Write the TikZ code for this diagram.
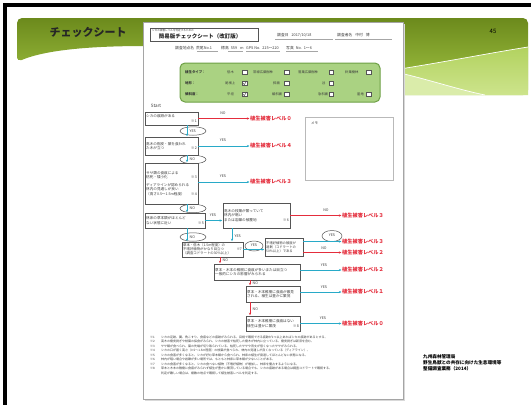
\documentclass[tikz,border=0pt]{standalone}
\usepackage{fontspec}
\setmainfont{Noto Sans CJK JP}
\usetikzlibrary{arrows.meta,shapes.geometric}
\definecolor{redA}{RGB}{228,45,60}
\definecolor{tealA}{RGB}{40,170,200}
\definecolor{boxC}{RGB}{85,85,85}
\definecolor{txtC}{RGB}{60,60,60}
\definecolor{gFill}{RGB}{170,210,130}
\definecolor{gLine}{RGB}{110,160,70}
\definecolor{banD}{RGB}{108,138,28}
\definecolor{banL}{RGB}{165,200,70}
\definecolor{banM}{RGB}{178,210,95}
\definecolor{banN}{RGB}{205,228,140}
\definecolor{banP}{RGB}{218,236,170}
\definecolor{sheetB}{RGB}{165,165,165}
\newcommand{\rnt}[1]{\leavevmode\hskip 0pt plus 1fill #1}
\begin{document}
\begin{tikzpicture}[x=1pt,y=-1pt,
 qbox/.style 2 args={draw=boxC, fill=white, line width=0.5pt, inner sep=1.2pt, align=left, text width=#1, minimum height=#2, font=\fontsize{3.6}{4.4}\selectfont, text=txtC},
 ell/.style={draw=boxC, ellipse, line width=0.5pt, inner sep=0pt, minimum width=26, minimum height=8.5},
 yn/.style={font=\fontsize{3.6}{4}\selectfont, text=txtC, inner sep=0pt},
 ya/.style={-{Stealth[length=2.6pt,width=2.2pt]}, draw=tealA, line width=0.6pt, shorten >=0.5pt},
 na/.style={-{Stealth[length=2.6pt,width=2.2pt]}, draw=redA, line width=0.6pt, shorten >=0.5pt},
 lvl/.style={anchor=west, text=redA, font=\fontsize{5.2}{6}\selectfont\bfseries, inner sep=0pt},
 cb/.style={draw=boxC, fill=white, minimum size=4.5, inner sep=0pt, line width=0.45pt},
 gl/.style={anchor=west, inner sep=0pt, font=\fontsize{3.3}{4}\selectfont, text=txtC},
 gh/.style={anchor=west, inner sep=0pt, font=\fontsize{3.4}{4}\selectfont\bfseries, text=black!80},
 hd/.style={anchor=west, inner sep=0pt, font=\fontsize{3.8}{4.4}\selectfont, text=txtC},
 nt/.style={anchor=west, inner sep=0pt, font=\fontsize{3}{3.5}\selectfont, text=txtC},
 ul/.style={draw=gray!70, line width=0.4pt},
 cr/.style={anchor=west, inner sep=0pt, font=\fontsize{4.6}{5}\selectfont\bfseries, text=black}
]
\useasboundingbox (0,0) rectangle (531,405);
\fill[white] (0,0) rectangle (531,405);
% frame
\fill[black] (3,3) rectangle (531,7);
\fill[black] (3,3) rectangle (7,405);
% banner
\shade[top color=banD, bottom color=banL, rounded corners=5pt] (17,62) -- (17,18) -- (528,18) -- (528,95) -- (395,95) -- (150,46) .. controls (90,46) and (45,50) .. (17,62) -- cycle;
\shade[top color=banM, bottom color=banN] (400,69) .. controls (450,61) and (490,53) .. (528,47) -- (528,95) -- (485,95) .. controls (460,90) and (430,80) .. (400,73) -- cycle;
\fill[banP] (400,73) .. controls (430,80) and (460,90) .. (485,95) -- (400,95) -- cycle;
\draw[white, line width=0.7pt] (400,69) .. controls (450,61) and (490,53) .. (528,47);
\draw[white, line width=0.7pt] (400,73) .. controls (430,80) and (460,90) .. (485,95);
\node[font=\fontsize{11}{12}\selectfont\bfseries, text=black!85] (title) at (88,32) {チェックシート};
\node[font=\fontsize{6}{7}\selectfont, text=black] (pg) at (493,31) {45};
% sheet
\fill[black!15] (145,24) rectangle (405,401);
\filldraw[fill=white, draw=sheetB, line width=0.8pt] (143,22) rectangle (403,399);
% header
\node[draw=boxC, line width=0.6pt, minimum width=108, minimum height=13, inner sep=0pt] (hdr) at (204,34.5) {};
\node[anchor=north west, inner sep=0pt, font=\fontsize{2.6}{3}\selectfont, text=txtC] (hsub) at (152,29) {シカの被害レベルを判定するための};
\node[inner sep=0pt, font=\fontsize{5.5}{6}\selectfont\bfseries, text=black!85] (htitle) at (200,36.5) {簡易版チェックシート（改訂版）};
\node[hd] (hdate) at (277,35) {調査日\hspace{3pt}2017/10/18};
\draw[ul] (275,39.5) -- (333,39.5);
\node[hd] (hwho) at (337,35) {調査者名\hspace{3pt}中村\hspace{3pt}博};
\draw[ul] (335,39.5) -- (392,39.5);
\node[hd] (hpt) at (175,48) {調査地点名\hspace{2pt}荒尾No.1};
\draw[ul] (197,51.5) -- (218,51.5);
\node[hd] (halt) at (221,48) {標高\hspace{2pt}559\hspace{3pt}m};
\draw[ul] (228,51.5) -- (243,51.5);
\node[hd] (hgps) at (246,48) {GPS No.\hspace{2pt}215〜220};
\draw[ul] (246,51.5) -- (280,51.5);
\node[hd] (hph) at (286,48) {写真\hspace{2pt}No.\hspace{2pt}1〜6};
\draw[ul] (286,51.5) -- (318,51.5);
% green box
\node[draw=gLine, fill=gFill, rounded corners=5pt, minimum width=200, minimum height=39, line width=1pt, inner sep=0pt] (gbox) at (280,82.5) {};
\node[gh] (g1) at (185,72) {植生タイプ：};
\node[gh] (g2) at (185,83) {地形：};
\node[gh] (g3) at (185,94) {傾斜度：};
\foreach \n/\x/\y/\t in {t11/227/72/低木, t12/253/72/常緑広葉樹林, t13/298/72/落葉広葉樹林, t14/345/72/針葉樹林,
  t21/225/83/尾根上, t22/273/83/斜面, t23/322/83/谷,
  t31/227/94/平坦, t32/272/94/緩斜面, t33/318/94/急斜面, t34/357/94/崖地}
  \node[gl] (\n) at (\x,\y) {\t};
\foreach \n/\x/\y in {c11/244.5/72, c12/286.5/72, c13/331/72, c14/368.5/72,
  c21/244.5/83, c22/286.5/83, c23/331/83,
  c31/244.5/94, c32/286.5/94, c33/331/94, c34/368.5/94}
  \node[cb] (\n) at (\x,\y) {};
\draw[boxC, line width=0.5pt] (243,83) -- (244.3,84.6) -- (246.6,81);
\draw[boxC, line width=0.5pt] (243,94) -- (244.3,95.6) -- (246.6,92);
% memo
\node[draw=gray!55, line width=0.8pt, minimum width=88, minimum height=63, inner sep=0pt] (memo) at (349,149) {};
\node[anchor=north west, inner sep=0pt, font=\fontsize{3.5}{4}\selectfont, text=txtC] (memot) at (311,122) {メモ};
% flowchart
\node[font=\fontsize{4.5}{5}\selectfont, text=txtC, inner sep=0pt] (start) at (156,106) {Start};
\node[qbox={50.6}{13}] (b1) at (171.5,118.5) {シカの痕跡がある\\\rnt{※1}};
\node[qbox={50.6}{18}] (b2) at (171.5,146) {高木の樹皮・葉を食われ\\た木が立つ\rnt{※2}};
\node[qbox={50.6}{41}] (b3) at (171.5,183.5) {ササ類の食痕による\\枯死・矮小化\rnt{※3}\\[3pt]ディアラインが認められる\\林内の見通しが良い\\（高さ0.5〜1.5m程度）\rnt{※4}};
\node[qbox={57.6}{15}] (b4) at (175,220.5) {林床の草本類がほとんど\\ない状態に近い\rnt{※5}};
\node[qbox={64.6}{25}] (b5) at (256.5,215.5) {高木の枝葉が繁っていて\\林内が暗い\\または岩礫の被覆地\rnt{※6}};
\node[qbox={58.6}{15}, font=\fontsize{3.4}{4.2}\selectfont] (b6) at (212.5,249.5) {草本・低木（1.5m程度）の\\不嗜好植物がかなり目立つ\rnt{※7}\\（調査コドラートの30\%以上）};
\node[qbox={35.6}{18}, font=\fontsize{3.3}{4.1}\selectfont] (b7) at (284,247) {不嗜好植物の被度が\\過剰（コドラートの\\50\%以上）である};
\node[qbox={83.6}{16}] (b8) at (257,272) {草本・木本の稚樹に食痕が多いまたは目立つ\\一般的にシカの影響がみられる};
\node[qbox={51.6}{16}] (b9) at (273,294) {草本・木本稚樹に食痕が散見\\される、植生は豊かに繁茂};
\node[qbox={51.6}{15}] (b10) at (273,323.5) {草本・木本稚樹に食痕はない\\植生は豊かに繁茂\rnt{※8}};
% ellipses and vertical arrows
\coordinate (ax) at (187,0);
\node[ell] (e1) at (193,131) {};
\node[ell] (e2) at (193,159.5) {};
\node[ell] (e3) at (193,208.5) {};
\node[ell] (e4) at (193,237) {};
\draw[ya] (b1.south -| ax) -- (b2.north -| ax);
\draw[ya] (b2.south -| ax) -- (b3.north -| ax);
\draw[ya] (b3.south -| ax) -- (b4.north -| ax);
\draw[ya] (b4.south -| ax) -- (b6.north -| ax);
\node[yn, anchor=west] (e1t) at (189.5,131) {YES};
\node[yn, anchor=west] (e2t) at (189.5,159.5) {NO};
\node[yn, anchor=west] (e3t) at (189.5,208.5) {NO};
\node[yn, anchor=west] (e4t) at (189.5,237) {NO};
\coordinate (bx) at (232,0);
\draw[ya] (b5.south -| bx) -- (b6.north -| bx);
\node[yn, anchor=west] (y5) at (234.5,236) {YES};
\coordinate (cx) at (220,0);
\draw[na] (b6.south -| cx) -- (b8.north -| cx);
\node[yn, anchor=west] (n6) at (222.5,260.5) {NO};
\coordinate (dx) at (250,0);
\draw[na] (b8.south -| dx) -- (b9.north -| dx);
\node[yn, anchor=west] (n8) at (252.5,283) {NO};
\draw[na] (b9.south -| dx) -- (b10.north -| dx);
\node[yn, anchor=west] (n9) at (252.5,309) {NO};
% level labels
\node[lvl] (L0) at (250,118.5) {植生被害レベル０};
\node[lvl] (L1) at (250,146) {植生被害レベル４};
\node[lvl] (L2) at (250,182) {植生被害レベル３};
\node[lvl] (L3) at (342,215.5) {植生被害レベル３};
\node[lvl] (L4) at (342,241.5) {植生被害レベル３};
\node[lvl] (L5) at (342,252.5) {植生被害レベル２};
\node[lvl] (L6) at (342,270) {植生被害レベル２};
\node[lvl] (L7) at (342,292) {植生被害レベル１};
\node[lvl] (L8) at (342,323.5) {植生被害レベル０};
% horizontal arrows
\draw[na] (b1.east) -- (L0.west);
\node[yn] (a0) at (223,113) {NO};
\draw[ya] (b2.east) -- (L1.west);
\node[yn] (a1) at (223,140.5) {YES};
\draw[ya] (b3.east |- L2.west) -- (L2.west);
\node[yn] (a2) at (223,176.5) {YES};
\draw[ya] (b4.east) -- (b4.east -| b5.west);
\node[yn] (a3) at (213,215) {YES};
\draw[na] (b5.east) -- (L3.west);
\node[yn] (a4) at (326,210.5) {NO};
\node[ell, minimum width=18, minimum height=10] (e5) at (254,246) {};
\draw[ya] (b6.east) -- (b6.east -| b7.west);
\node[yn] (e5t) at (254,245) {YES};
\node[ell, minimum width=20, minimum height=11] (e6) at (332,236) {};
\node[yn] (e6t) at (332,235.5) {YES};
\draw[ya] (b7.east |- L4.west) -- (L4.west);
\draw[na] (b7.east |- L5.west) -- (L5.west);
\node[yn] (a5) at (324,248) {NO};
\draw[ya] (b8.east |- L6.west) -- (L6.west);
\node[yn] (a6) at (324,265) {YES};
\draw[ya] (b9.east |- L7.west) -- (L7.west);
\node[yn] (a7) at (324,287) {YES};
\draw[ya] (b10.east |- L8.west) -- (L8.west);
\node[yn] (a8) at (323,318.5) {YES};
% notes
\foreach \n/\y/\k/\t in {
 1/337/※1/シカの足跡、糞、角こすり、食痕などの痕跡がみられる。目視で確認できる痕跡が1つ以上あればシカの痕跡があるとする。,
 2/341.5/※2/高木の樹皮剥ぎや枝葉の採食がみられ、シカの被害で枯死した樹木が林内に立っている。樹皮剥ぎは新旧を含む。,
 3/346/※3/ササ類が食べられ、葉の先端が切り取られている。枯死したササや背丈が低くなったササがみられる。,
 4/350.5/※4/シカの口が届く高さ（0.5〜1.5m程度）の枝葉が食べられ、林内の見通しが良くなっている（ディアライン）。,
 5/355/※5/シカの食害が多くなると、シカが好む草本類から食べられ、林床の植生が衰退してほとんどない状態になる。,
 6/359.5/※6/林内が暗い場合や岩礫が多い場所では、もともと林床に草本類が少ないことがある。,
 7/364/※7/シカの食害が多くなると、シカの食べない植物（不嗜好植物）が増加し、林床を優占するようになる。,
 8/368.5/※8/草本と木本の稚樹に食痕がみられず植生が豊かに繁茂している場合でも、シカの痕跡がある場合は調査コドラートで確認する。}
 {\node[nt] (nk\n) at (150,\y) {\k}; \node[nt] (nt\n) at (161,\y) {\t};}
\node[nt] (nt9) at (161,373) {判定が難しい場合は、複数の地点で確認して植生被害レベルを判定する。};
% credit
\node[cr] (cr1) at (423,357) {九州森林管理局};
\node[cr] (cr2) at (423,363) {野生鳥獣との共存に向けた生息環境等};
\node[cr] (cr3) at (423,369) {整備調査業務（2014）};
\end{tikzpicture}
\end{document}
